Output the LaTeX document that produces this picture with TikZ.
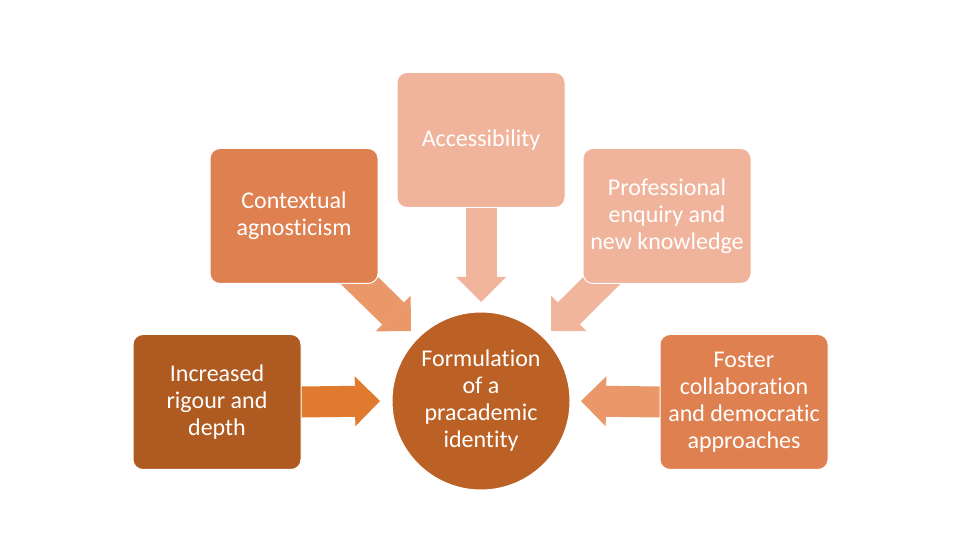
\documentclass[tikz,border=0pt]{standalone}
\usepackage{fontspec}
\setmainfont{Carlito}[Ligatures=NoCommon]
\usetikzlibrary{arrows.meta,calc,backgrounds}
\definecolor{cInc}{HTML}{AE5A21}
\definecolor{cForm}{HTML}{BB6125}
\definecolor{cMid}{HTML}{DF8050}
\definecolor{cLight}{HTML}{F0B49C}
\definecolor{aOrange}{HTML}{E07A2F}
\definecolor{aMid}{HTML}{EA976A}
\definecolor{aLight}{HTML}{F1B59E}
\tikzset{
  box/.style={rectangle, rounded corners=10pt, draw=white, line width=1pt,
    minimum width=168pt, minimum height=135pt, inner sep=2pt, outer sep=0pt,
    text=white, align=center, font=\fontsize{24}{27}\selectfont},
  hub/.style={circle, draw=white, line width=1pt, minimum size=178pt,
    inner sep=0pt, outer sep=0pt, fill=cForm, text=white, align=center,
    font=\fontsize{24}{27}\selectfont},
  blockarrow/.style={line width=31pt,
    -{Triangle[length=25pt,width=50pt,line width=0pt]}}
}
\begin{document}
\begin{tikzpicture}[x=1pt,y=1pt]
\useasboundingbox (0,0) rectangle (960,540);
% nodes
\node[hub] (form) at (481,139) {Formulation\\of a\\pracademic\\identity};
\node[box, fill=cInc] (inc) at (217,138) {Increased\\rigour and\\depth};
\node[box, fill=cMid] (ctx) at (294,324) {Contextual\\agnosticism};
\node[box, fill=cLight] (acc) at (481,400) {Accessibility};
\node[box, fill=cLight] (prof) at (667,324) {Professional\\enquiry and\\new knowledge};
\node[box, fill=cMid] (fos) at (744,138) {Foster\\collaboration\\and democratic\\approaches};
% arrows behind the boxes
\begin{pgfonlayer}{background}
\fill[white] (0,0) rectangle (960,540);
\draw[blockarrow, draw=aOrange] (inc.east) -- ($(form.west)+(-12,0)$);
\draw[blockarrow, draw=aMid] ($(ctx.south east)+(-36,20)$) -- ($(form.center)+(135:99)$);
\draw[blockarrow, draw=aLight] (acc.south) -- ($(form.north)+(0,10)$);
\draw[blockarrow, draw=aLight] ($(prof.south west)+(36,20)$) -- ($(form.center)+(45:99)$);
\draw[blockarrow, draw=aMid] (fos.west) -- ($(form.east)+(11,0)$);
\end{pgfonlayer}
\end{tikzpicture}
\end{document}
